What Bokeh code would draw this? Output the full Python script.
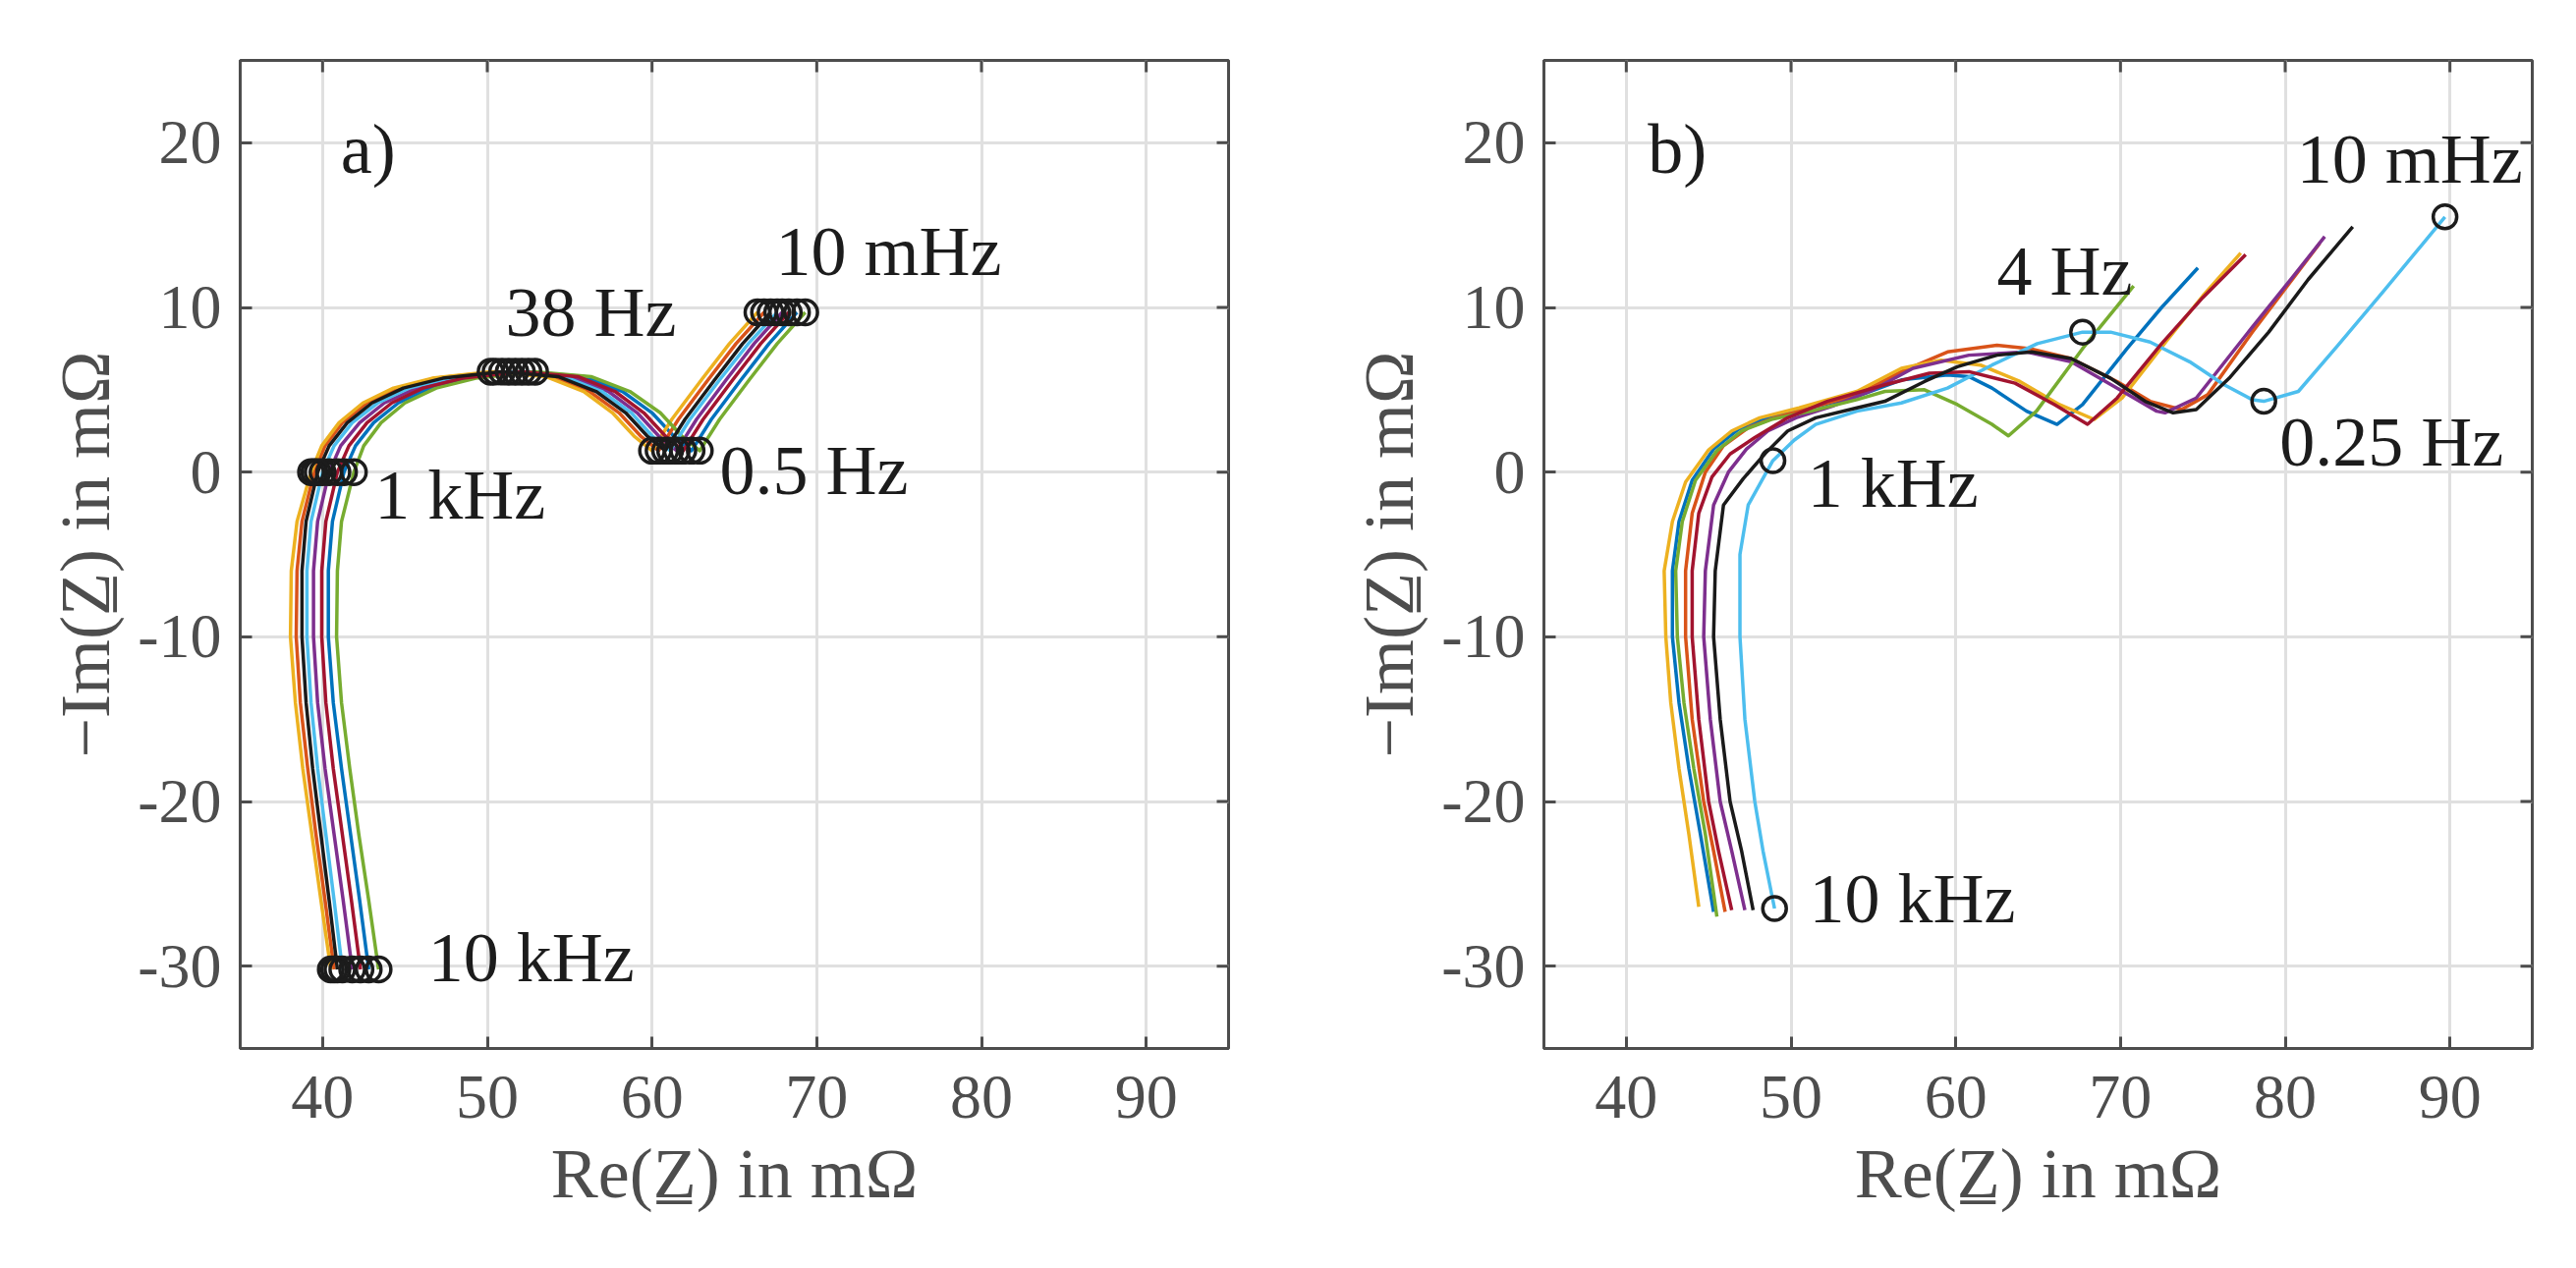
import math
from bokeh.plotting import figure
from bokeh.layouts import row
from bokeh.models import Range1d, FixedTicker, Label
from bokeh.embed import file_html
from bokeh.resources import INLINE

# ---------------- data ----------------
x_ticks = [40, 50, 60, 70, 80, 90]
x_tick_labels = ["40", "50", "60", "70", "80", "90"]
y_ticks = [-30, -20, -10, 0, 10, 20]
y_tick_labels = ["-30", "-20", "-10", "0", "10", "20"]

# Panel a) : -Im(Z) sample levels shared by the 8 spectra (10 kHz ... 10 mHz)
a_im = [-30.2, -26.0, -22.0, -18.0, -14.0, -10.0, -6.0, -3.0, 0.0, 1.6, 3.0, 4.2,
        5.1, 5.7, 6.1, 5.8, 4.9, 3.6, 2.2, 1.3, 3.2, 5.6, 7.8, 9.7]
a_re_yellow = [40.5, 39.9, 39.35, 38.8, 38.35, 38.05, 38.1, 38.45, 39.3, 39.95, 41.0, 42.45,
               44.3, 46.65, 50.2, 53.55, 55.85, 57.6, 58.9, 60.0, 61.2, 63.0, 64.7, 66.4]
a_re_orange = [40.7, 40.15, 39.6, 39.1, 38.65, 38.4, 38.45, 38.75, 39.5, 40.15, 41.2, 42.7,
               44.55, 46.9, 50.5, 53.9, 56.2, 58.0, 59.3, 60.4, 61.6, 63.4, 65.1, 66.8]
a_re_black = [40.9, 40.4, 39.9, 39.4, 39.0, 38.75, 38.75, 39.0, 39.7, 40.4, 41.5, 43.0,
              44.9, 47.3, 50.9, 54.3, 56.6, 58.4, 59.7, 60.8, 62.0, 63.8, 65.5, 67.2]
a_re_cyan = [41.2, 40.7, 40.2, 39.7, 39.3, 39.05, 39.05, 39.3, 40.0, 40.7, 41.8, 43.35,
             45.25, 47.65, 51.3, 54.65, 56.95, 58.75, 60.0, 61.1, 62.3, 64.1, 65.85, 67.6]
a_re_purple = [41.8, 41.25, 40.7, 40.15, 39.7, 39.45, 39.45, 39.7, 40.4, 41.1, 42.25, 43.75,
               45.7, 48.1, 51.7, 55.1, 57.35, 59.1, 60.4, 61.5, 62.7, 64.5, 66.2, 67.9]
a_re_red = [42.3, 41.75, 41.2, 40.65, 40.2, 39.95, 39.95, 40.2, 40.9, 41.6, 42.7, 44.2,
            46.1, 48.5, 52.1, 55.5, 57.75, 59.5, 60.8, 61.9, 63.1, 64.9, 66.6, 68.3]
a_re_blue = [42.8, 42.25, 41.7, 41.15, 40.65, 40.35, 40.35, 40.6, 41.3, 42.0, 43.1, 44.6,
             46.5, 48.9, 52.5, 55.9, 58.2, 60.0, 61.3, 62.4, 63.6, 65.4, 67.1, 68.8]
a_re_green = [43.4, 42.8, 42.2, 41.65, 41.15, 40.85, 40.9, 41.15, 41.9, 42.5, 43.55, 45.0,
              46.9, 49.3, 52.9, 56.3, 58.65, 60.5, 61.8, 62.9, 64.1, 65.9, 67.6, 69.3]
a_marker_idx = [0, 8, 14, 19, 23]          # 10 kHz, 1 kHz, 38 Hz, 0.5 Hz, 10 mHz
a_labels = ["a)", "10 mHz", "38 Hz", "1 kHz", "0.5 Hz", "10 kHz"]

# Panel b)
b_re_blue = [45.3, 44.5, 43.8, 43.2, 42.8, 42.8, 43.2, 44.0, 45.3, 46.8, 48.6, 50.8, 54.0,
             56.7, 59.5, 60.8, 62.2, 64.3, 66.15, 67.7, 70.4, 72.5, 74.7]
b_im_blue = [-26.7, -22.0, -18.0, -14.0, -10.0, -6.0, -3.0, -0.5, 1.4, 2.6, 3.3, 3.8, 4.6,
             5.6, 5.9, 5.8, 5.1, 3.7, 2.9, 4.1, 7.5, 10.0, 12.4]
b_re_orange = [46.0, 45.3, 44.7, 44.0, 43.6, 43.6, 44.0, 44.8, 45.9, 47.4, 49.0, 50.5, 54.0,
               56.7, 59.5, 62.5, 64.5, 67.0, 69.8, 71.8, 73.7, 75.3, 78.0, 82.1]
b_im_orange = [-26.7, -23.0, -20.0, -15.0, -10.0, -6.0, -2.5, 0.0, 1.6, 2.7, 3.3, 3.7, 4.7,
               6.1, 7.3, 7.7, 7.5, 6.9, 5.5, 4.3, 3.8, 4.7, 8.5, 13.9]
b_re_yellow = [44.4, 43.8, 43.2, 42.7, 42.4, 42.3, 42.8, 43.6, 45.0, 46.4, 48.1, 50.5, 54.0,
               56.7, 59.1, 61.5, 63.9, 66.3, 68.4, 70.1, 72.9, 75.0, 77.3]
b_im_yellow = [-26.4, -22.0, -18.0, -14.0, -10.0, -6.0, -3.0, -0.6, 1.35, 2.5, 3.3, 3.9, 4.9,
               6.3, 6.8, 6.5, 5.5, 4.1, 3.2, 4.5, 8.1, 10.7, 13.3]
b_re_purple = [47.2, 46.4, 45.7, 45.1, 44.7, 44.8, 45.3, 46.2, 47.3, 48.6, 50.3, 52.5, 55.0,
               57.4, 60.8, 64.3, 67.0, 69.8, 72.2, 72.7, 74.6, 78.0, 80.5, 82.4]
b_im_purple = [-26.6, -23.0, -20.0, -15.0, -10.0, -6.0, -2.0, 0.0, 1.4, 2.5, 3.3, 4.0, 5.0,
               6.3, 7.1, 7.3, 6.7, 5.1, 3.7, 3.6, 4.5, 8.8, 11.9, 14.3]
b_re_green = [45.5, 44.8, 44.1, 43.5, 43.1, 43.0, 43.4, 44.2, 45.5, 47.0, 48.8, 51.2, 54.0,
              55.7, 58.1, 60.1, 62.2, 63.2, 64.9, 67.7, 70.8]
b_im_green = [-27.0, -22.0, -18.0, -14.0, -10.0, -6.0, -3.0, -0.5, 1.3, 2.5, 3.2, 3.7, 4.4,
              4.9, 5.0, 4.1, 2.9, 2.2, 3.7, 7.5, 11.3]
b_re_cyan = [49.0, 48.3, 47.8, 47.2, 46.9, 46.9, 47.4, 48.9, 50.2, 51.5, 54.0, 56.7, 59.5,
             62.2, 64.95, 67.7, 69.4, 71.8, 74.2, 76.3, 78.0, 78.7, 80.8, 83.2, 85.9, 88.3, 89.7]
b_im_cyan = [-26.5, -23.0, -20.0, -15.0, -10.0, -5.0, -2.0, 0.7, 1.95, 2.9, 3.7, 4.2, 5.1,
             6.5, 7.8, 8.5, 8.5, 7.9, 6.7, 5.3, 4.4, 4.3, 4.9, 7.7, 10.9, 13.8, 15.5]
b_re_red = [46.4, 45.6, 45.0, 44.4, 44.0, 44.0, 44.4, 45.2, 46.3, 47.8, 49.8, 52.2, 55.7,
            58.4, 60.8, 63.6, 66.0, 68.0, 69.8, 72.5, 75.0, 77.6]
b_im_red = [-26.6, -23.0, -20.0, -15.0, -10.0, -6.0, -2.5, -0.3, 1.1, 2.1, 3.3, 4.3, 5.3,
            6.0, 6.1, 5.4, 4.1, 2.9, 4.5, 7.8, 10.6, 13.2]
b_re_black = [47.7, 47.0, 46.3, 45.7, 45.3, 45.4, 45.9, 47.1, 48.45, 49.8, 51.5, 54.0, 55.7,
              58.1, 60.1, 62.5, 64.6, 67.0, 69.4, 71.5, 73.2, 74.6, 76.6, 79.0, 81.4, 84.1]
b_im_black = [-26.6, -23.0, -20.0, -15.0, -10.0, -6.0, -2.0, -0.4, 1.15, 2.5, 3.3, 3.9, 4.3,
              5.5, 6.4, 7.1, 7.3, 6.9, 5.7, 4.3, 3.6, 3.8, 5.7, 8.5, 11.7, 14.9]
b_marker_idx = [0, 7, 15, 21, 26]          # 10 kHz, 1 kHz, 4 Hz, 0.25 Hz, 10 mHz
b_labels = ["b)", "10 mHz", "4 Hz", "0.25 Hz", "1 kHz", "10 kHz"]

# ---------------- style ----------------
FONT = "Liberation Serif"
AX = "#4d4d4d"
GRID = "#e0e0e0"
TXT = "#1c1c1c"
COL = {"blue": "#0072BD", "orange": "#D95319", "yellow": "#EDB120", "purple": "#7E2F8E",
       "green": "#77AC30", "cyan": "#4DBEEE", "red": "#A2142F", "black": "#1a1a1a"}
X_MIN, X_MAX, Y_MIN, Y_MAX = 35, 95, -35, 25
a_label_pos = [(41.1, 19.6), (67.5, 13.4), (51.1, 9.7), (43.15, -1.4), (64.1, 0.1), (46.4, -29.5)]
b_label_pos = [(41.3, 19.6), (80.7, 19.0), (62.5, 12.2), (79.65, 1.85), (51.0, -0.7), (51.1, -25.9)]


def make_fig(b_left, b_right):
    p = figure(frame_width=1006, frame_height=1006,
               min_border_left=b_left, min_border_right=b_right,
               min_border_top=61, min_border_bottom=200,
               x_range=Range1d(X_MIN, X_MAX), y_range=Range1d(Y_MIN, Y_MAX),
               output_backend="svg", toolbar_location=None,
               background_fill_color="white", border_fill_color="white")
    p.outline_line_color = AX
    p.outline_line_width = 3
    p.xaxis.ticker = FixedTicker(ticks=x_ticks)
    p.yaxis.ticker = FixedTicker(ticks=y_ticks)
    p.xgrid.ticker = FixedTicker(ticks=x_ticks)
    p.ygrid.ticker = FixedTicker(ticks=y_ticks)
    p.xaxis.major_label_overrides = dict(zip(x_ticks, x_tick_labels))
    p.yaxis.major_label_overrides = dict(zip(y_ticks, y_tick_labels))
    p.grid.grid_line_color = GRID
    p.grid.grid_line_width = 3
    for ax in (p.xaxis, p.yaxis):
        ax.axis_line_color = AX
        ax.axis_line_width = 3
        ax.major_tick_in = 12
        ax.major_tick_out = 0
        ax.major_tick_line_color = AX
        ax.major_tick_line_width = 3
        ax.minor_tick_line_color = None
        ax.major_label_text_font = FONT
        ax.major_label_text_font_size = "64px"
        ax.major_label_text_color = AX
        ax.axis_label_text_font = FONT
        ax.axis_label_text_font_size = "72px"
        ax.axis_label_text_color = AX
        ax.axis_label_text_font_style = "normal"
    p.xaxis.major_label_standoff = 28
    p.yaxis.major_label_standoff = 19
    p.xaxis.axis_label_standoff = 14
    p.yaxis.axis_label_standoff = 10
    p.yaxis.major_label_orientation = "horizontal"
    p.xaxis.axis_label = "Re(Z\u0332) in m\u03A9"
    p.yaxis.axis_label = "\u2212Im(Z\u0332) in m\u03A9"
    # mirrored ticks on top and right edges
    p.ray(x=x_ticks, y=[Y_MAX] * len(x_ticks), length=12, length_units="screen",
          angle=-math.pi / 2, line_color=AX, line_width=3)
    p.ray(x=[X_MAX] * len(y_ticks), y=y_ticks, length=12, length_units="screen",
          angle=math.pi, line_color=AX, line_width=3)
    return p


def add_labels(p, texts, pos):
    for t, (lx, ly) in zip(texts, pos):
        p.add_layout(Label(x=lx, y=ly, text=t, text_font=FONT, text_font_size="72px",
                           text_color=TXT, text_align="left", text_baseline="alphabetic"))


# ---------------- panel a ----------------
pa = make_fig(244, 56)
a_series = [("blue", a_re_blue), ("orange", a_re_orange), ("yellow", a_re_yellow),
            ("purple", a_re_purple), ("green", a_re_green), ("cyan", a_re_cyan),
            ("red", a_re_red), ("black", a_re_black)]
for name, xs in a_series:
    pa.line(xs, a_im, line_color=COL[name], line_width=3.5, line_join="round")
for name, xs in a_series:
    pa.scatter([xs[i] for i in a_marker_idx], [a_im[i] for i in a_marker_idx],
               marker="circle", size=25, fill_color=None, line_color=TXT, line_width=3.5)
add_labels(pa, a_labels, a_label_pos)

# ---------------- panel b ----------------
pb = make_fig(265, 30)
b_series = [("blue", b_re_blue, b_im_blue), ("orange", b_re_orange, b_im_orange),
            ("yellow", b_re_yellow, b_im_yellow), ("purple", b_re_purple, b_im_purple),
            ("green", b_re_green, b_im_green), ("cyan", b_re_cyan, b_im_cyan),
            ("red", b_re_red, b_im_red), ("black", b_re_black, b_im_black)]
for name, xs, ys in b_series:
    pb.line(xs, ys, line_color=COL[name], line_width=3.5, line_join="round")
pb.scatter([b_re_cyan[i] for i in b_marker_idx], [b_im_cyan[i] for i in b_marker_idx],
           marker="circle", size=24, fill_color=None, line_color=TXT, line_width=3.5)
add_labels(pb, b_labels, b_label_pos)

layout = row(pa, pb, spacing=0)
open("out.html", "w").write(file_html(layout, INLINE, title="Nyquist plots"))
